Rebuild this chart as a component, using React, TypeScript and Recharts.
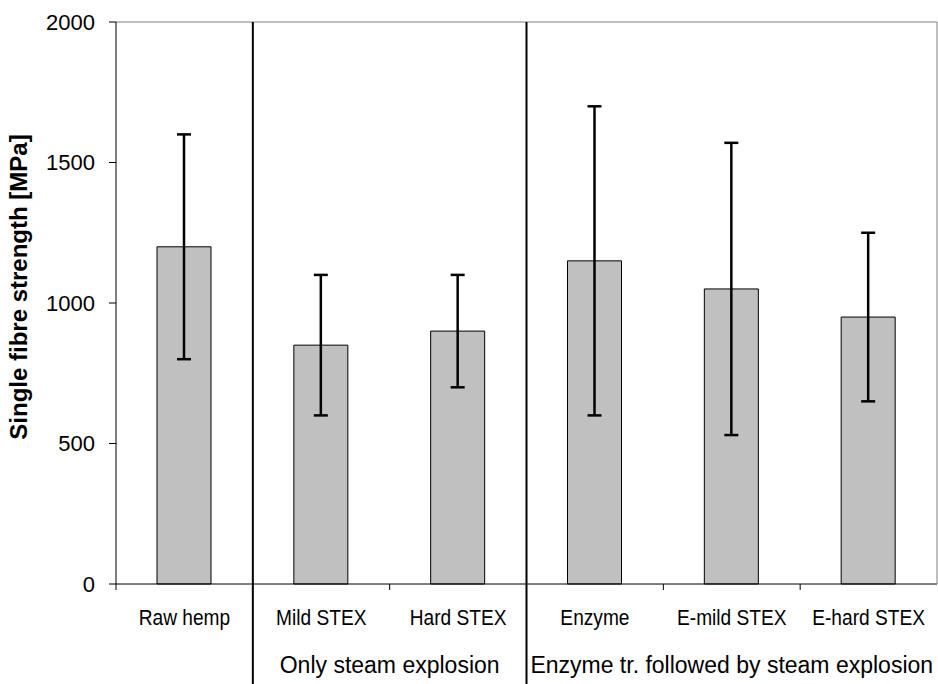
import { BarChart, Bar, XAxis, YAxis, ErrorBar, ReferenceLine } from "recharts";

const categories = ["Raw hemp", "Mild STEX", "Hard STEX", "Enzyme", "E-mild STEX", "E-hard STEX"];
const strength = [1200, 850, 900, 1150, 1050, 950];
const spread = [400, 250, 200, 550, 520, 300];
const yTicks = [0, 500, 1000, 1500, 2000];
const groups = [
  { label: "Only steam explosion", start: 1, span: 2 },
  { label: "Enzyme tr. followed by steam explosion", start: 3, span: 3 },
];

const W = 938;
const H = 684;
const TOP = 22;
const Y_W = 116;
const R_W = 1;
const X_H = 100;
const band = (W - Y_W - R_W) / categories.length;

const SANS = "'Liberation Sans', Arial, sans-serif";

const data = categories.map((name, i) => ({ name, value: strength[i], err: spread[i] }));

function CategoryTick(props: any) {
  const { x, y, payload, index } = props;
  const left = x - band / 2;
  const group = groups.find((g) => g.start === index);
  return (
    <g>
      {group ? (
        <line x1={left} x2={left} y1={TOP} y2={H} stroke="#000" strokeWidth={2} />
      ) : (
        <line x1={left} x2={left} y1={y} y2={y + 6} stroke="#000" />
      )}
      {/* narrow look of the original labels */}
      <text
        transform={`translate(${x}, ${y + 41}) scale(0.87, 1)`}
        textAnchor="middle"
        fontFamily={SANS}
        fontSize={22}
        fill="#000"
      >
        {payload.value}
      </text>
      {group && (
        <text
          x={left + (band * group.span) / 2}
          y={y + 89}
          textAnchor="middle"
          fontFamily={SANS}
          fontSize={23}
          fill="#000"
        >
          {group.label}
        </text>
      )}
    </g>
  );
}

function YTitle() {
  return (
    <text
      transform="translate(18, 287) rotate(-90)"
      textAnchor="middle"
      dominantBaseline="central"
      fontFamily={SANS}
      fontWeight="bold"
      fontSize={24}
      fill="#000"
    >
      Single fibre strength [MPa]
    </text>
  );
}

export default function App() {
  return (
    <div style={{ position: "absolute", left: 0, top: 0, background: "#fff" }}>
      <BarChart width={W} height={H} data={data} margin={{ top: TOP, right: 0, bottom: 0, left: 0 }}>
        <ReferenceLine y={2000} stroke="#808080" />
        <XAxis
          dataKey="name"
          height={X_H}
          axisLine={{ stroke: "#000" }}
          tickLine={false}
          tickSize={0}
          tickMargin={0}
          interval={0}
          tick={<CategoryTick />}
        />
        <YAxis
          width={Y_W}
          domain={[0, 2000]}
          ticks={yTicks}
          axisLine={{ stroke: "#000" }}
          tickLine={{ stroke: "#000" }}
          tickSize={7}
          tickMargin={14}
          tick={{ fill: "#000", fontFamily: SANS, fontSize: 22 }}
          label={<YTitle />}
        />
        <YAxis
          yAxisId="frame"
          orientation="right"
          width={R_W}
          domain={[0, 2000]}
          tick={false}
          tickLine={false}
          axisLine={{ stroke: "#808080" }}
        />
        <Bar dataKey="value" fill="#c0c0c0" stroke="#000" strokeWidth={1} barSize={54} isAnimationActive={false}>
          <ErrorBar dataKey="err" width={7} stroke="#000" strokeWidth={2.5} />
        </Bar>
      </BarChart>
    </div>
  );
}
